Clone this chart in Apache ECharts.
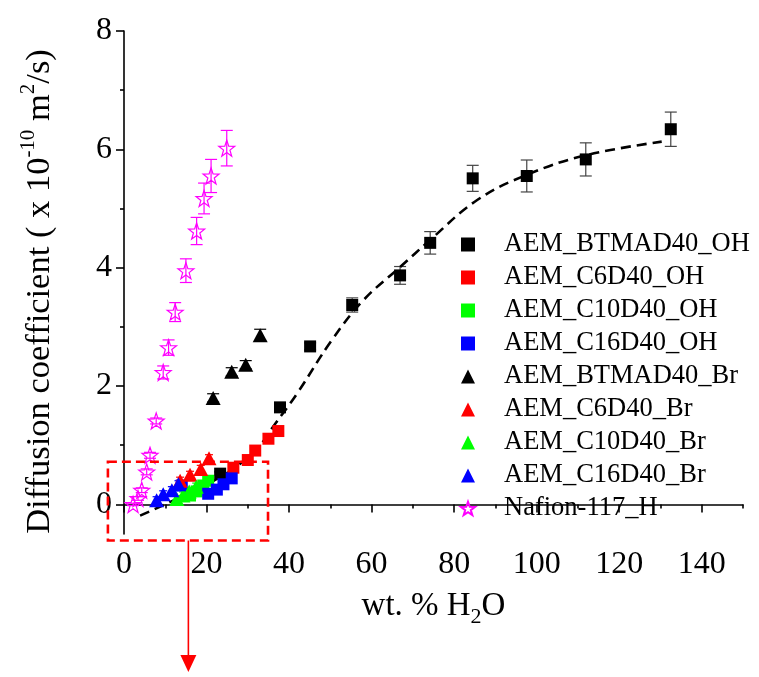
<!DOCTYPE html>
<html>
<head>
<meta charset="utf-8">
<script src="https://cdn.jsdelivr.net/npm/echarts@6/dist/echarts.min.js"></script>
<style>
  html, body { margin: 0; padding: 0; background: #fff; }
  #chart { width: 759px; height: 677px; }
</style>
</head>
<body>
<div id="chart"></div>
<script>
// Water uptake (wt. % H2O) vs. diffusion coefficient (x 1e-10 m^2/s)
const btmad40OH = [[23.3,0.52],[37.8,1.64],[45.1,2.67],[55.3,3.37],[66.9,3.87],[74.2,4.42],[84.5,5.51],[97.6,5.55],[111.9,5.83],[132.5,6.34]];
const btmad40OHErr = [0.03,0.04,0.06,0.12,0.15,0.19,0.22,0.27,0.28,0.29];
const c6d40OH = [[26.5,0.62],[30.0,0.75],[31.8,0.91],[35.0,1.11],[37.4,1.24]];
const c10d40OH = [[16.0,0.15],[17.6,0.22],[19.2,0.32],[20.4,0.40]];
const c16d40OH = [[14.0,0.32],[20.4,0.18],[22.5,0.25],[24.1,0.34],[26.1,0.44]];
const btmad40Br = [[21.6,1.80],[26.1,2.24],[29.5,2.36],[33.0,2.86]];
const btmad40BrErr = [0.07,0.07,0.07,0.1];
const c6d40Br = [[13.6,0.40],[16.0,0.50],[18.6,0.60],[20.6,0.78]];
const c10d40Br = [[12.8,0.09],[14.3,0.15],[15.8,0.22],[17.5,0.30]];
const c16d40Br = [[7.9,0.07],[9.5,0.17],[11.6,0.24],[13.2,0.34]];
const nafion117H = [[2.2,0.00],[3.4,0.10],[4.3,0.24],[5.5,0.55],[6.3,0.83],[7.8,1.41],[9.5,2.23],[10.8,2.65],[12.4,3.25],[15.0,3.95],[17.6,4.62],[19.4,5.17],[21.1,5.55],[24.9,6.02]];
const nafion117HErr = [0.02,0.03,0.04,0.05,0.05,0.05,0.11,0.13,0.16,0.2,0.23,0.26,0.28,0.3];
const clusterErr = 0.06;

// dashed trend curve through the AEM data
const fitCurve = [[3.9,-0.19],[13.6,0.12],[23.3,0.46],[28.0,0.68],[33.0,1.0],[36.0,1.3],[41.9,1.87],[50.3,2.77],[58.0,3.45],[66.9,4.01],[74.2,4.47],[85.5,5.14],[97.6,5.57],[111.9,5.90],[130.3,6.13]];

// highlighted low-uptake region and pointer arrow (axis units)
const zoomBox = [[-3.9,0.72],[34.9,0.72],[34.9,-0.61],[-3.9,-0.61]];
const arrowFrom = [15.6,-0.61];
const arrowTo = [15.6,-2.83];

const xMajor = [0,20,40,60,80,100,120,140];
const xMinor = [10,30,50,70,90,110,130,150];
const yMajor = [0,2,4,6,8];
const yMinor = [1,3,5,7];

const legendNames = ['AEM_BTMAD40_OH','AEM_C6D40_OH','AEM_C10D40_OH','AEM_C16D40_OH','AEM_BTMAD40_Br','AEM_C6D40_Br','AEM_C10D40_Br','AEM_C16D40_Br','Nafion-117_H'];

const FONT = 'Liberation Serif';
const STAR = 'path://M0,-10 L2.35,-3.24 L9.51,-3.09 L3.8,1.24 L5.88,8.09 L0,4 L-5.88,8.09 L-3.8,1.24 L-9.51,-3.09 L-2.35,-3.24 Z';

function withErr(points, errs) {
  return points.map((p, i) => [p[0], p[1], Array.isArray(errs) ? errs[i] : errs]);
}

function errorBars(name, points, errs, color, cap) {
  return {
    type: 'custom',
    name: name + ' err',
    data: withErr(points, errs),
    encode: { x: 0, y: 1 },
    z: 1,
    silent: true,
    renderItem: function (params, api) {
      const x = api.value(0), y = api.value(1), e = api.value(2);
      const t = api.coord([x, y + e]);
      const b = api.coord([x, y - e]);
      const st = { stroke: color, lineWidth: 1.2 };
      return {
        type: 'group',
        children: [
          { type: 'line', shape: { x1: t[0], y1: t[1], x2: b[0], y2: b[1] }, style: st },
          { type: 'line', shape: { x1: t[0] - cap, y1: t[1], x2: t[0] + cap, y2: t[1] }, style: st },
          { type: 'line', shape: { x1: b[0] - cap, y1: b[1], x2: b[0] + cap, y2: b[1] }, style: st }
        ]
      };
    }
  };
}

function scatter(name, points, symbol, size, color, hollow) {
  return {
    type: 'scatter',
    name: name,
    data: points,
    symbol: symbol,
    symbolSize: size,
    z: 3,
    itemStyle: hollow
      ? { color: 'rgba(0,0,0,0)', borderColor: color, borderWidth: 1.2, opacity: 1 }
      : { color: color, opacity: 1 }
  };
}

const sqSize = 12, triSize = [15, 14], starSize = 16;

const chart = echarts.init(document.getElementById('chart'), null, { renderer: 'canvas' });

const axisText = { fontFamily: FONT, fontSize: 32, color: '#000' };

chart.setOption({
  animation: false,
  backgroundColor: '#fff',
  grid: { left: 124, right: 16, top: 31, bottom: 143, containLabel: false },
  xAxis: [{
    type: 'value', min: 0, max: 150,
    name: '{a|wt. % H}{b|2}{a|O}',
    nameLocation: 'middle', nameGap: 50,
    nameTextStyle: {
      rich: {
        a: { fontFamily: FONT, fontSize: 33, color: '#000', lineHeight: 44 },
        b: { fontFamily: FONT, fontSize: 22, color: '#000', verticalAlign: 'bottom', lineHeight: 44 }
      }
    },
    axisLine: { lineStyle: { color: '#000', width: 1.6 } },
    axisTick: { length: 8, lineStyle: { color: '#000', width: 1.6 }, customValues: xMajor },
    axisLabel: Object.assign({ margin: 15, customValues: xMajor }, axisText),
    splitLine: { show: false }
  }, {
    type: 'value', min: 0, max: 150, position: 'bottom',
    axisLine: { show: false },
    axisTick: { length: 4, lineStyle: { color: '#000', width: 1.6 }, customValues: xMinor },
    axisLabel: { show: false },
    splitLine: { show: false }
  }],
  yAxis: [{
    type: 'value', min: -0.5, max: 8,
    name: '{a|Diffusion coefficient ( x 10}{s|-10}{a| m}{s|2}{a|/s)}',
    nameLocation: 'middle', nameGap: 62, nameRotate: 90,
    nameTextStyle: {
      padding: [0, 18, 0, 0],
      rich: {
        a: { fontFamily: FONT, fontSize: 34.5, color: '#000', lineHeight: 44 },
        s: { fontFamily: FONT, fontSize: 21, color: '#000', verticalAlign: 'top', lineHeight: 44 }
      }
    },
    axisLine: { lineStyle: { color: '#000', width: 1.6 } },
    axisTick: { length: 8, lineStyle: { color: '#000', width: 1.6 }, customValues: yMajor },
    axisLabel: Object.assign({ margin: 12, customValues: yMajor }, axisText),
    splitLine: { show: false }
  }, {
    type: 'value', min: -0.5, max: 8, position: 'left',
    axisLine: { show: false },
    axisTick: { length: 4, lineStyle: { color: '#000', width: 1.6 }, customValues: yMinor },
    axisLabel: { show: false },
    splitLine: { show: false }
  }],
  legend: {
    orient: 'vertical',
    left: 460, top: 231,
    padding: 0,
    itemGap: 6,
    itemWidth: 14, itemHeight: 14,
    textStyle: { fontFamily: FONT, fontSize: 26.5, color: '#000', lineHeight: 27, padding: [0, 0, 0, 24] },
    data: legendNames
  },
  series: [
    {
      type: 'line', name: 'fit', data: fitCurve, smooth: 0.4, symbol: 'none', z: 2,
      lineStyle: { color: '#000', width: 2.6, type: [10, 6] }, silent: true
    },
    errorBars('AEM_BTMAD40_OH', btmad40OH, btmad40OHErr, '#444', 6),
    errorBars('AEM_C6D40_OH', c6d40OH, clusterErr, '#ff0000', 4),
    errorBars('AEM_C10D40_OH', c10d40OH, clusterErr, '#00ff00', 4),
    errorBars('AEM_C16D40_OH', c16d40OH, clusterErr, '#0000ff', 4),
    errorBars('AEM_BTMAD40_Br', btmad40Br, btmad40BrErr, '#000', 6),
    errorBars('AEM_C6D40_Br', c6d40Br, clusterErr, '#ff0000', 4),
    errorBars('AEM_C10D40_Br', c10d40Br, clusterErr, '#00ff00', 4),
    errorBars('AEM_C16D40_Br', c16d40Br, clusterErr, '#0000ff', 4),
    errorBars('Nafion-117_H', nafion117H, nafion117HErr, '#ff00ff', 6),
    scatter('AEM_BTMAD40_OH', btmad40OH, 'rect', sqSize, '#000'),
    scatter('AEM_C6D40_OH', c6d40OH, 'rect', sqSize, '#ff0000'),
    scatter('AEM_C10D40_OH', c10d40OH, 'rect', sqSize, '#00ff00'),
    scatter('AEM_C16D40_OH', c16d40OH, 'rect', sqSize, '#0000ff'),
    scatter('AEM_BTMAD40_Br', btmad40Br, 'triangle', triSize, '#000'),
    scatter('AEM_C6D40_Br', c6d40Br, 'triangle', triSize, '#ff0000'),
    scatter('AEM_C10D40_Br', c10d40Br, 'triangle', triSize, '#00ff00'),
    scatter('AEM_C16D40_Br', c16d40Br, 'triangle', triSize, '#0000ff'),
    scatter('Nafion-117_H', nafion117H, STAR, starSize, '#ff00ff', true)
  ]
});

// dashed region outline and downward arrow, placed through the axis scales
const toPx = (pt) => chart.convertToPixel({ xAxisIndex: 0, yAxisIndex: 0 }, pt);
const boxPx = zoomBox.map(toPx);
const a0 = toPx(arrowFrom), a1 = toPx(arrowTo);
const headLen = 17, headHalf = 8;
chart.setOption({
  graphic: [
    {
      type: 'polygon', silent: true, z: 10,
      shape: { points: boxPx },
      style: { fill: null, stroke: '#ff0000', lineWidth: 2.6, lineDash: [9, 5] }
    },
    {
      type: 'line', silent: true, z: 10,
      shape: { x1: a0[0], y1: a0[1], x2: a1[0], y2: a1[1] - headLen + 2 },
      style: { stroke: '#ff0000', lineWidth: 1.6 }
    },
    {
      type: 'polygon', silent: true, z: 10,
      shape: { points: [[a1[0], a1[1]], [a1[0] - headHalf, a1[1] - headLen], [a1[0] + headHalf, a1[1] - headLen]] },
      style: { fill: '#ff0000', stroke: null }
    }
  ]
});
</script>
</body>
</html>
